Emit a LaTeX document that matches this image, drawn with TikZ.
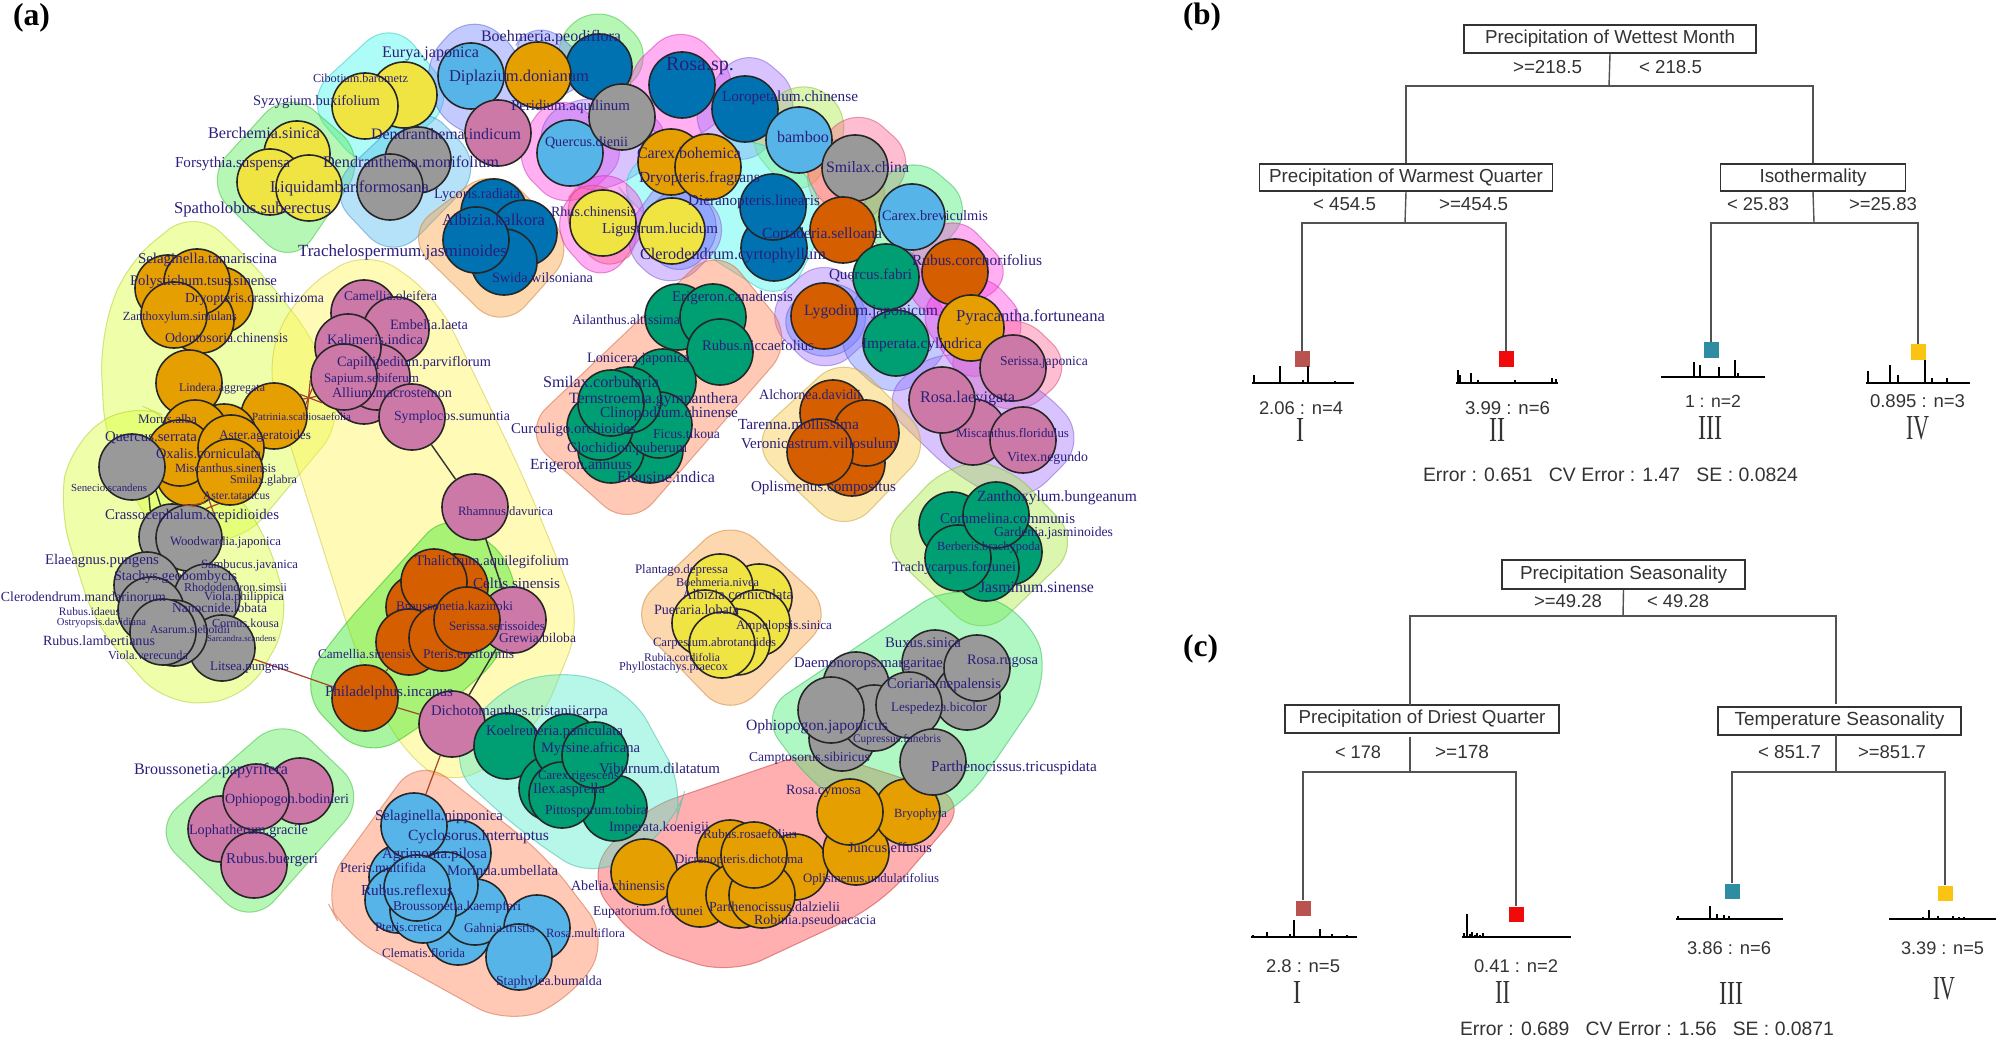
\documentclass[tikz,border=0pt]{standalone}
\usepackage{graphicx}
\usepackage{fontspec}
\setmainfont{Liberation Serif}
\newfontfamily\tsans{Liberation Sans}
\usetikzlibrary{calc}
\newlength\pxu \setlength\pxu{0.01cm}
\newcount\lc \lc=0
% Okabe-Ito node colours
\definecolor{cY}{HTML}{F0E442}\definecolor{cO}{HTML}{E69F00}\definecolor{cS}{HTML}{56B4E9}
\definecolor{cD}{HTML}{0072B2}\definecolor{cV}{HTML}{D55E00}\definecolor{cG}{HTML}{009E73}
\definecolor{cP}{HTML}{CC79A7}\definecolor{cK}{HTML}{999999}
% hull colours
\definecolor{hYa}{HTML}{D9FF33}\definecolor{hYb}{HTML}{FFF551}\definecolor{hG}{HTML}{51EB51}
\definecolor{hGb}{HTML}{30E820}\definecolor{hAq}{HTML}{51EBCB}\definecolor{hCy}{HTML}{3FF7EB}
\definecolor{hPeri}{HTML}{7181FF}\definecolor{hPur}{HTML}{A171FF}\definecolor{hMag}{HTML}{FF41E1}
\definecolor{hPink}{HTML}{FF6191}\definecolor{hSal}{HTML}{FF7F50}\definecolor{hRed}{HTML}{FF4141}
\definecolor{hPe}{HTML}{FBA141}\definecolor{hTan}{HTML}{F7C941}\definecolor{hMint}{HTML}{41EB71}
\definecolor{hLime}{HTML}{A9EB41}\definecolor{hBl}{HTML}{51B9F1}
\definecolor{labc}{HTML}{2A1F7A}\definecolor{txg}{HTML}{333333}
\definecolor{sqA}{HTML}{B9534F}\definecolor{sqB}{HTML}{F00A0A}\definecolor{sqC}{HTML}{2E8CA3}\definecolor{sqD}{HTML}{FBC312}
\definecolor{eR}{HTML}{A8452F}
\tikzset{
 hull/.style={draw=#1!80!black,fill=#1,fill opacity=.42,draw opacity=.5,rounded corners=10pt,line width=.3pt},
 spnode/.style={circle,draw=black!85,fill=#1,minimum size=.66cm,inner sep=0pt,line width=.45pt},
 lab/.style={inner sep=0pt,text=labc},
 txt/.style={inner sep=0pt,text=txg,font=\tsans},
 tbox/.style={draw=txg,fill=white,line width=.5pt,inner sep=0pt,text=txg,font=\tsans},
 leafsq/.style={minimum size=.15cm,inner sep=0pt,fill=#1},
 tline/.style={draw=txg!85,line width=.4pt},
 edgeR/.style={draw=eR,line width=.35pt},
 edgeK/.style={draw=black!80,line width=.4pt}
}
\newcommand\hu[2]{\draw[hull=#1] #2 -- cycle;}
\newcommand\ci[4]{\node[spnode=#4] (#1) at (#2,#3) {};}
\newcommand\lb[4]{\global\advance\lc by 1\node[lab] (l\the\lc) at ({(#1+#2)/2},#3) {\resizebox{\the\numexpr#2-#1\relax\pxu}{!}{#4}};}
\newcommand\tx[4]{\global\advance\lc by 1\node[txt] (l\the\lc) at ({(#1+#2)/2},#3) {\resizebox{\the\numexpr#2-#1\relax\pxu}{!}{#4}};}
\newcommand\ro[5]{\global\advance\lc by 1\node[inner sep=0pt,text=txg] (l\the\lc) at ({(#1+#2)/2},#3) {\resizebox{\the\numexpr#2-#1\relax\pxu}{#4\pxu}{#5}};}
\newcommand\pl[4]{\global\advance\lc by 1\node[inner sep=0pt,text=black] (l\the\lc) at ({(#1+#2)/2},#3) {\resizebox{\the\numexpr#2-#1\relax\pxu}{!}{\bfseries #4}};}
\newcommand\tb[7]{\node[tbox,minimum width=#4\pxu,minimum height=#5\pxu] (#1) at (#2,#3) {\resizebox{#6\pxu}{!}{#7}};}
\newcommand\spk[4]{\draw[black,line width=.45pt] (#1,#3) -- (#2,#3);\foreach \a/\b in {#4}{\draw[black,line width=.5pt] (\a,#3) -- ++(0,-\b);}}
\begin{document}
\begin{tikzpicture}[x=0.01cm,y=-0.01cm]
\useasboundingbox (0,0) rectangle (2000,1043);
% ---------- hulls ----------
\hu{hYa}{(195,208) -- (125,265) -- (100,340) -- (105,440) -- (155,535) -- (240,545) -- (345,420) -- (315,340) -- (255,265)}
\hu{hYb}{(367,248) -- (295,295) -- (265,365) -- (295,460) -- (355,650) -- (400,750) -- (455,790) -- (540,725) -- (582,620) -- (525,480) -- (465,355) -- (435,295)}
\hu{hYa}{(130,401) -- (70,445) -- (59,510) -- (95,625) -- (165,705) -- (245,700) -- (291,620) -- (265,530) -- (175,420)}
\hu{hGb}{(450,508) -- (335,635) -- (298,690) -- (365,760) -- (425,725) -- (509,650) -- (520,570)}
\hu{hCy}{(392,18) -- (303,100) -- (368,175) -- (458,100)}
\hu{hG}{(288,88) -- (203,182) -- (292,268) -- (368,157)}
\hu{hBl}{(421,100) -- (325,190) -- (393,262) -- (485,168)}
\hu{hPe}{(495,165) -- (403,235) -- (502,332) -- (578,247)}
\hu{hPeri}{(471,10) -- (417,70) -- (455,140) -- (520,130) -- (530,60)}
\hu{hG}{(598,0) -- (545,50) -- (600,115) -- (658,55)}
\hu{hPeri}{(533,15) -- (505,65) -- (545,110) -- (600,70)}
\hu{hMag}{(555,88) -- (508,157) -- (566,215) -- (635,150)}
\hu{hPur}{(600,90) -- (530,120) -- (560,190) -- (625,190) -- (680,130)}
\hu{hMag}{(682,20) -- (618,80) -- (650,140) -- (700,145) -- (745,85)}
\hu{hPur}{(745,43) -- (683,120) -- (745,174) -- (807,97)}
\hu{hLime}{(801,73) -- (740,135) -- (800,205) -- (857,120)}
\hu{hPe}{(830,125) -- (795,175) -- (860,260) -- (895,180)}
\hu{hPink}{(856,103) -- (794,170) -- (856,237) -- (920,160)}
\hu{hMint}{(912,151) -- (848,215) -- (912,280) -- (977,207)}
\hu{hCy}{(612,178) -- (690,130) -- (790,150) -- (830,215) -- (785,305) -- (715,260) -- (640,215)}
\hu{hMag}{(602,161) -- (546,225) -- (603,289) -- (658,213)}
\hu{hPink}{(590,170) -- (555,215) -- (610,280) -- (650,230)}
\hu{hPur}{(672,165) -- (615,243) -- (672,295) -- (736,230)}
\hu{hPeri}{(680,175) -- (630,230) -- (680,285) -- (730,225)}
\hu{hPur}{(825,253) -- (760,315) -- (824,380) -- (890,320)}
\hu{hPeri}{(835,270) -- (770,320) -- (825,370) -- (880,320)}
\hu{hPeri}{(896,225) -- (830,345) -- (896,405) -- (960,340)}
\hu{hMag}{(952,208) -- (895,270) -- (932,329) -- (1019,277)}
\hu{hMag}{(979,265) -- (911,307) -- (971,392) -- (1035,327)}
\hu{hPink}{(1015,308) -- (936,363) -- (1015,422) -- (1077,367)}
\hu{hPur}{(877,400) -- (942,345) -- (1040,385) -- (1088,440) -- (1021,507) -- (960,480)}
\hu{hSal}{(718,245) -- (521,432) -- (630,529) -- (795,340)}
\hu{hTan}{(845,353) -- (747,443) -- (845,536) -- (935,443)}
\hu{hPe}{(730,516) -- (627,613) -- (730,720) -- (836,613)}
\hu{hLime}{(950,461) -- (876,540) -- (982,640) -- (1082,543) -- (1005,462)}
\hu{hRed}{(640,810) -- (815,750) -- (970,800) -- (880,905) -- (730,975) -- (640,945) -- (585,875)}
\hu{hMint}{(952,583) -- (758,713) -- (817,790) -- (900,835) -- (965,805) -- (1050,680) -- (1030,615)}
\hu{hAq}{(556,668) -- (630,690) -- (685,790) -- (675,825) -- (593,880) -- (525,835) -- (447,765) -- (490,695)}
\hu{hSal}{(419,756) -- (321,890) -- (345,935) -- (508,1025) -- (570,1000) -- (610,940) -- (545,855)}
\hu{hG}{(284,715) -- (151,830) -- (251,927) -- (368,795)}
% ---------- species circles ----------
\ci{a1}{404}{95}{cY}\ci{a2}{365}{106}{cY}
\ci{b1}{599}{67}{cD}\ci{b2}{471}{76}{cS}\ci{b3}{538}{75}{cO}
\ci{b4}{498}{133}{cP}\ci{b5}{570}{153}{cS}\ci{b6}{622}{117}{cK}
\ci{c1}{297}{154}{cY}\ci{c2}{270}{182}{cY}\ci{c3}{309}{188}{cY}
\ci{d1}{418}{160}{cK}\ci{d2}{390}{187}{cK}
\ci{e1}{494}{212}{cD}\ci{e2}{524}{233}{cD}\ci{e4}{504}{262}{cD}\ci{e3}{476}{240}{cD}
\ci{f1}{168}{288}{cO}\ci{f3}{220}{300}{cO}\ci{f4}{201}{320}{cO}\ci{f2}{197}{282}{cO}\ci{f5}{174}{315}{cO}
\ci{g1}{364}{313}{cP}\ci{g2}{396}{330}{cP}\ci{g5}{364}{391}{cP}\ci{g6}{377}{377}{cP}\ci{g3}{348}{347}{cP}\ci{g4}{344}{377}{cP}
\ci{sym}{412}{417}{cP}\ci{rha}{475}{507}{cP}
\ci{lin}{189}{383}{cO}\ci{pat}{274}{416}{cO}
\ci{h2}{224}{437}{cO}\ci{h1}{195}{433}{cO}\ci{h4}{189}{473}{cO}\ci{h3}{180}{453}{cO}\ci{h5}{231}{448}{cO}\ci{h6}{230}{472}{cO}
\ci{qse}{132}{467}{cK}
\ci{i1}{172}{537}{cK}\ci{i2}{189}{538}{cK}
\ci{j1}{147}{585}{cK}\ci{j2}{207}{597}{cK}\ci{j5}{151}{610}{cK}\ci{j4}{222}{648}{cK}\ci{j6}{174}{633}{cK}\ci{j3}{163}{632}{cK}
\ci{k2}{419}{607}{cV}\ci{k6}{455}{587}{cV}\ci{k1}{434}{582}{cV}\ci{k3}{409}{642}{cV}\ci{k4}{442}{638}{cV}\ci{cel}{513}{620}{cP}\ci{k5}{467}{620}{cV}
\ci{phi}{365}{698}{cV}\ci{dic}{452}{724}{cP}
\ci{m1}{507}{746}{cG}\ci{m5}{552}{788}{cG}\ci{m2}{567}{747}{cG}\ci{m6}{614}{808}{cG}\ci{m4}{562}{795}{cG}\ci{m3}{595}{755}{cG}
\ci{n1}{300}{791}{cP}\ci{n3}{221}{829}{cP}\ci{n2}{256}{797}{cP}\ci{n4}{254}{865}{cP}
\ci{o10}{458}{932}{cS}\ci{o8}{475}{912}{cS}\ci{o2}{458}{853}{cS}\ci{o3}{402}{877}{cS}\ci{o1}{414}{826}{cS}\ci{o4}{445}{885}{cS}\ci{o6}{398}{900}{cS}\ci{o7}{423}{910}{cS}\ci{o5}{417}{888}{cS}\ci{o11}{537}{928}{cS}\ci{o12}{519}{957}{cS}
\ci{p1}{644}{872}{cO}\ci{p6}{795}{867}{cO}\ci{p3}{730}{853}{cO}\ci{p2}{700}{894}{cO}\ci{p5}{739}{895}{cO}\ci{p7}{762}{895}{cO}\ci{p4}{754}{855}{cO}
\ci{p8}{856}{852}{cO}\ci{p10}{907}{812}{cO}\ci{p9}{850}{812}{cO}
\ci{q3}{842}{738}{cK}\ci{q1}{856}{685}{cK}\ci{q4}{874}{718}{cK}\ci{q2}{831}{710}{cK}\ci{q6}{935}{663}{cK}\ci{q8}{967}{697}{cK}\ci{q7}{977}{668}{cK}\ci{q5}{909}{705}{cK}\ci{q9}{933}{762}{cK}
\ci{r1}{952}{525}{cG}\ci{r3}{1009}{552}{cG}\ci{r5}{986}{568}{cG}\ci{r4}{958}{558}{cG}\ci{r2}{996}{515}{cG}
\ci{s2}{759}{597}{cY}\ci{s1}{720}{587}{cY}\ci{s3}{757}{623}{cY}\ci{s6}{737}{642}{cY}\ci{s4}{705}{623}{cY}\ci{s7}{722}{645}{cY}
\ci{t1}{833}{413}{cV}\ci{t4}{852}{463}{cV}\ci{t2}{866}{433}{cV}\ci{t3}{820}{452}{cV}
\ci{u1}{678}{317}{cG}\ci{u2}{713}{317}{cG}\ci{u3}{720}{352}{cG}
\ci{u4}{663}{382}{cG}\ci{u8}{650}{450}{cG}\ci{u9}{611}{450}{cG}\ci{u7}{659}{425}{cG}\ci{u6}{600}{427}{cG}\ci{u5}{628}{400}{cG}\ci{u10}{611}{403}{cG}
\ci{v1}{682}{85}{cD}\ci{v2}{745}{109}{cD}\ci{v3}{799}{140}{cS}\ci{v4}{855}{168}{cK}
\ci{v5}{671}{162}{cO}\ci{v6}{708}{167}{cO}
\ci{v8}{774}{248}{cD}\ci{v7}{773}{207}{cD}
\ci{v9}{603}{223}{cY}\ci{v10}{672}{231}{cY}
\ci{v11}{843}{230}{cV}\ci{v12}{912}{217}{cS}\ci{v13}{886}{277}{cG}\ci{v14}{955}{272}{cV}
\ci{v15}{824}{316}{cV}\ci{v16}{896}{343}{cG}\ci{v17}{971}{328}{cO}
\ci{w4}{973}{432}{cP}\ci{w1}{1013}{368}{cP}\ci{w2}{942}{400}{cP}\ci{w3}{1023}{440}{cP}
% ---------- connectors ----------
\draw[edgeK] (sym) -- (rha);
\draw[edgeK] (rha) -- (cel);
\draw[edgeK] (cel) -- (dic);
\draw[edgeK] (qse.-60) -- (i1.130);
\draw[edgeK] (qse.-45) -- (i1.110);
\draw[edgeR] (pat.20) -- (g4.200);
\draw[edgeR] (pat.30) -- (g4.215);
\draw[edgeR] (pat.40) -- (g4.230);
\draw[edgeR] (pat.10) -- (g4.185);
\draw[edgeR] (h4.-80) -- (i2.100);
\draw[edgeR] (h4.-60) -- (i2.80);
\draw[edgeR] (h6.-110) -- (i2.60);
\draw[edgeR] (h6.-130) -- (i2.40);
\draw[edgeR] (j4) -- (phi);
\draw[edgeR] (phi) -- (dic);
\draw[edgeR] (k3) -- (phi);
\draw[edgeR] (dic) -- (o1);
% ---------- species labels ----------
\lb{382}{479}{54}{Eurya.japonica}\lb{481}{621}{38}{Boehmeria.peodiflora}
\lb{313}{408}{78}{Cibotium.barometz}\lb{449}{589}{78}{Diplazium.donianum}
\lb{253}{380}{102}{Syzygium.buxifolium}\lb{511}{630}{107}{Peridium.aquilinum}
\lb{208}{320}{133}{Berchemia.sinica}\lb{371}{521}{134}{Dendranthema.indicum}
\lb{545}{628}{143}{Quercus.dienii}\lb{175}{290}{164}{Forsythia.suspensa}
\lb{323}{499}{162}{Dendranthema.monifolium}\lb{270}{429}{188}{Liquidambar.formosana}
\lb{434}{520}{195}{Lycoris.radiata}\lb{442}{545}{220}{Albizia.kalkora}
\lb{174}{331}{209}{Spatholobus.suberectus}\lb{551}{636}{212}{Rhus.chinensis}
\lb{602}{718}{230}{Ligustrum.lucidum}\lb{298}{507}{252}{Trachelospermum.jasminoides}
\lb{492}{593}{278}{Swida.wilsoniana}\lb{138}{277}{260}{Selaginella.tamariscina}
\lb{130}{277}{282}{Polystichum.tsus.sinense}\lb{185}{324}{299}{Dryopteris.crassirhizoma}
\lb{123}{237}{318}{Zanthoxylum.simulans}\lb{165}{288}{338}{Odontosoria.chinensis}
\lb{344}{437}{296}{Camellia.oleifera}\lb{390}{468}{325}{Embelia.laeta}
\lb{327}{423}{340}{Kalimeris.indica}\lb{337}{491}{363}{Capillipedium.parviflorum}
\lb{324}{419}{379}{Sapium.sebiferum}\lb{332}{452}{393}{Allium.macrostemon}
\lb{394}{510}{417}{Symplocos.sumuntia}\lb{179}{265}{389}{Lindera.aggregata}
\lb{252}{351}{417}{Patrinia.scabiosaefolia}\lb{138}{197}{419}{Morus.alba}
\lb{105}{197}{438}{Quercus.serrata}\lb{219}{311}{436}{Aster.ageratoides}
\lb{156}{261}{454}{Oxalis.corniculata}\lb{175}{276}{468}{Miscanthus.sinensis}
\lb{230}{297}{481}{Smilax.glabra}\lb{71}{147}{488}{Senecio.scandens}
\lb{203}{270}{496}{Aster.tataricus}\lb{105}{279}{516}{Crassocephalum.crepidioides}
\lb{170}{281}{542}{Woodwardia.japonica}\lb{45}{159}{561}{Elaeagnus.pungens}
\lb{201}{298}{565}{Sambucus.javanica}\lb{114}{237}{577}{Stachys.geobombycis}
\lb{184}{287}{587}{Rhododendron.simsii}\lb{1}{166}{597}{Clerodendrum.mandarinorum}
\lb{204}{284}{597}{Viola.philippica}\lb{172}{267}{608}{Nanocnide.lobata}
\lb{59}{120}{612}{Rubus.idaeus}\lb{57}{146}{623}{Ostryopsis.davidiana}
\lb{212}{279}{623}{Cornus.kousa}\lb{150}{230}{630}{Asarum.sieboldii}
\lb{43}{155}{641}{Rubus.lambertianus}\lb{207}{276}{639}{Sarcandra.scandens}
\lb{108}{188}{655}{Viola.verecunda}\lb{210}{289}{668}{Litsea.pungens}
\lb{458}{553}{511}{Rhamnus.davurica}\lb{415}{569}{562}{Thalictrum.aquilegifolium}
\lb{473}{560}{583}{Celtis.sinensis}\lb{396}{513}{606}{Broussonetia.kazinoki}
\lb{449}{545}{626}{Serissa.serissoides}\lb{499}{576}{638}{Grewia.biloba}
\lb{318}{411}{654}{Camellia.sinensis}\lb{423}{514}{654}{Pteris.ensiformis}
\lb{325}{453}{693}{Philadelphus.incanus}
\lb{431}{608}{712}{Dichotomanthes.tristaniicarpa}\lb{486}{623}{732}{Koelreuteria.paniculata}
\lb{541}{640}{749}{Myrsine.africana}\lb{134}{288}{771}{Broussonetia.papyrifera}
\lb{538}{619}{777}{Carex.rigescens}\lb{599}{720}{768}{Viburnum.dilatatum}
\lb{533}{605}{790}{Ilex.asprella}\lb{545}{647}{811}{Pittosporum.tobira}
\lb{225}{349}{800}{Ophiopogon.bodinieri}\lb{375}{503}{817}{Selaginella.nipponica}
\lb{609}{709}{828}{Imperata.koenigii}\lb{408}{549}{837}{Cyclosorus.interruptus}
\lb{189}{308}{831}{Lophatherum.gracile}\lb{382}{487}{855}{Agrimonia.pilosa}
\lb{226}{318}{860}{Rubus.buergeri}\lb{340}{426}{868}{Pteris.multifida}
\lb{447}{558}{871}{Morinda.umbellata}\lb{361}{453}{890}{Rubus.reflexus}
\lb{571}{665}{886}{Abelia.chinensis}\lb{393}{521}{907}{Broussonetia.kaempferi}
\lb{593}{703}{912}{Eupatorium.fortunei}\lb{375}{442}{927}{Pteris.cretica}
\lb{464}{535}{928}{Gahnia.tristis}\lb{546}{625}{933}{Rosa.multiflora}
\lb{382}{465}{953}{Clematis.florida}\lb{496}{602}{982}{Staphylea.bumalda}
\lb{703}{797}{834}{Rubus.rosaefolius}\lb{675}{803}{860}{Dicranopteris.dichotoma}
\lb{803}{939}{879}{Oplismenus.undulatifolius}\lb{709}{840}{907}{Parthenocissus.dalzielii}
\lb{754}{876}{921}{Robinia.pseudoacacia}\lb{786}{861}{791}{Rosa.cymosa}
\lb{894}{947}{814}{Bryophyta}\lb{848}{932}{848}{Juncus.effusus}
\lb{749}{870}{758}{Camptosorus.sibiricus}\lb{931}{1097}{768}{Parthenocissus.tricuspidata}
\lb{746}{888}{727}{Ophiopogon.japonicus}\lb{853}{941}{740}{Cupressus.funebris}
\lb{891}{987}{708}{Lespedeza.bicolor}\lb{887}{1001}{685}{Coriaria.nepalensis}
\lb{794}{943}{664}{Daemonorops.margaritae}\lb{967}{1038}{661}{Rosa.rugosa}
\lb{885}{961}{643}{Buxus.sinica}
\lb{635}{728}{570}{Plantago.depressa}\lb{676}{759}{582}{Boehmeria.nivea}
\lb{682}{793}{595}{Albizia.corniculata}\lb{654}{739}{610}{Pueraria.lobata}
\lb{736}{832}{626}{Ampelopsis.sinica}\lb{653}{776}{643}{Carpesium.abrotanoides}
\lb{644}{720}{657}{Rubia.cordifolia}\lb{619}{728}{668}{Phyllostachys.praecox}
\lb{977}{1137}{498}{Zanthoxylum.bungeanum}\lb{940}{1075}{518}{Commelina.communis}
\lb{994}{1113}{533}{Gardenia.jasminoides}\lb{937}{1040}{548}{Berberis.brachypoda}
\lb{892}{1016}{568}{Trachycarpus.fortunei}\lb{979}{1094}{587}{Jasminum.sinense}
\lb{751}{896}{488}{Oplismenus.compositus}\lb{759}{861}{395}{Alchornea.davidii}
\lb{738}{859}{424}{Tarenna.mollissima}\lb{741}{897}{443}{Veronicastrum.villosulum}
\lb{920}{1015}{399}{Rosa.laevigata}\lb{956}{1069}{433}{Miscanthus.floridulus}
\lb{1007}{1088}{458}{Vitex.negundo}\lb{1000}{1088}{362}{Serissa.japonica}
\lb{587}{690}{359}{Lonicera.japonica}\lb{543}{659}{382}{Smilax.corbularia}
\lb{569}{738}{400}{Ternstroemia.gymnanthera}\lb{600}{738}{414}{Clinopodium.chinense}
\lb{511}{636}{430}{Curculigo.orchioides}\lb{653}{720}{434}{Ficus.tikoua}
\lb{567}{687}{449}{Glochidion.puberum}\lb{530}{632}{466}{Erigeron.annuus}
\lb{617}{715}{477}{Eleusine.indica}\lb{862}{982}{345}{Imperata.cylindrica}
\lb{702}{814}{345}{Rubus.niccaefolius}\lb{572}{680}{320}{Ailanthus.altissima}
\lb{672}{793}{298}{Erigeron.canadensis}\lb{804}{938}{312}{Lygodium.japonicum}
\lb{956}{1105}{317}{Pyracantha.fortuneana}\lb{829}{912}{275}{Quercus.fabri}
\lb{912}{1042}{260}{Rubus.corchorifolius}\lb{640}{826}{256}{Clerodendrum.cyrtophyllum}
\lb{762}{882}{233}{Cortaderia.selloana}\lb{882}{988}{216}{Carex.breviculmis}
\lb{688}{820}{202}{Dicranopteris.linearis}\lb{639}{760}{179}{Dryopteris.fragrans}
\lb{637}{741}{153}{Carex.bohemica}\lb{826}{909}{167}{Smilax.china}
\lb{777}{829}{137}{bamboo}\lb{722}{858}{98}{Loropetalum.chinense}
\lb{666}{734}{66}{Rosa.sp.}
% ---------- panel letters ----------
\pl{13}{50}{18}{(a)}\pl{1183}{1221}{17}{(b)}\pl{1183}{1218}{649}{(c)}
% ---------- tree b ----------
\tb{broot}{1610}{39}{292}{28}{250}{Precipitation of Wettest Month}
\tb{bL}{1406}{177.5}{293}{27}{274}{Precipitation of Warmest Quarter}
\tb{bR}{1813}{177.5}{185}{27}{107}{Isothermality}
\coordinate (bj0) at (1609,86);\coordinate (bjL) at (1405,223);\coordinate (bjR) at (1814,223);
\node[leafsq=sqA] (bI) at (1302,359) {};\node[leafsq=sqB] (bII) at (1506,359) {};
\node[leafsq=sqC] (bIII) at (1711,350) {};\node[leafsq=sqD] (bIV) at (1918,352) {};
\draw[tline] (broot.south) -- (bj0);
\draw[tline] (bL.north) |- (bj0) -| (bR.north);
\draw[tline] (bL.south) -- (bjL);\draw[tline] (bR.south) -- (bjR);
\draw[tline] (bI.north) |- (bjL) -| (bII.north);
\draw[tline] (bIII.north) |- (bjR) -| (bIV.north);
\tx{1513}{1582}{67}{>=218.5}\tx{1639}{1702}{67}{< 218.5}
\tx{1313}{1376}{204}{< 454.5}\tx{1439}{1508}{204}{>=454.5}
\tx{1727}{1789}{204}{< 25.83}\tx{1849}{1917}{204}{>=25.83}
\spk{1252}{1354}{383}{1254/8,1280/17,1308/17,1303/3,1262/1,1335/2}
\spk{1456}{1558}{383}{1458/13,1460/8,1471/10,1478/3,1515/3,1552/5,1556/4}
\spk{1661}{1765}{377}{1694/15,1700/12,1719/10,1735/17,1738/4}
\spk{1866}{1970}{383}{1868/12,1890/18,1898/8,1925/23,1932/5,1947/5}
\tx{1259}{1343}{408}{2.06 : n=4}\tx{1465}{1550}{408}{3.99 : n=6}
\tx{1685}{1741}{401}{1 : n=2}\tx{1870}{1965}{401}{0.895 : n=3}
\ro{1296}{1304}{430}{23}{I}\ro{1489}{1505}{430}{23}{II}\ro{1698}{1722}{428}{23}{III}\ro{1906}{1929}{428}{23}{IV}
\tx{1423}{1798}{475}{Error :  0.651\ \ \ CV Error :  1.47\ \ \ SE :  0.0824}
% ---------- tree c ----------
\tb{croot}{1623.5}{574.5}{243}{29}{207}{Precipitation Seasonality}
\tb{cL}{1422}{719}{274}{28}{247}{Precipitation of Driest Quarter}
\tb{cR}{1839.5}{721}{243}{28}{210}{Temperature Seasonality}
\coordinate (cj0) at (1623,616);\coordinate (cjL) at (1410,772);\coordinate (cjR) at (1836,772);
\coordinate (cuL) at (1410,705);\coordinate (cuR) at (1836,704);\coordinate (cdL) at (1410,737);\coordinate (cdR) at (1836,735);
\node[leafsq=sqA] (cI) at (1303,908) {};\node[leafsq=sqB] (cII) at (1516,914) {};
\node[leafsq=sqC] (cIII) at (1732,891) {};\node[leafsq=sqD] (cIV) at (1945,893) {};
\draw[tline] (croot.south) -- (cj0);
\draw[tline] (cuL) |- (cj0) -| (cuR);
\draw[tline] (cdL) -- (cjL);\draw[tline] (cdR) -- (cjR);
\draw[tline] (cI.north) |- (cjL) -| (cII.north);
\draw[tline] (cIII.north) |- (cjR) -| (cIV.north);
\tx{1534}{1602}{601}{>=49.28}\tx{1647}{1709}{601}{< 49.28}
\tx{1335}{1381}{752}{< 178}\tx{1435}{1489}{752}{>=178}
\tx{1758}{1821}{752}{< 851.7}\tx{1858}{1926}{752}{>=851.7}
\spk{1251}{1357}{937}{1253/2,1267/5,1294/17,1290/3,1320/8,1332/3,1347/2}
\spk{1462}{1571}{937}{1467/23,1464/4,1472/5,1477/4,1483/4,1470/3,1475/2,1480/2,1486/1.5,1490/1}
\spk{1676}{1783}{919}{1678/3,1710/13,1717/5,1724/4,1729/3}
\spk{1889}{1996}{919}{1910/1.5,1916/1.5,1923/2,1929/9,1938/3,1953/3,1959/2.5,1964/2,1978/1.5}
\tx{1266}{1340}{966}{2.8 : n=5}\tx{1474}{1558}{966}{0.41 : n=2}
\tx{1687}{1771}{948}{3.86 : n=6}\tx{1901}{1984}{948}{3.39 : n=5}
\ro{1293}{1301}{992}{22}{I}\ro{1495}{1510}{992}{22}{II}\ro{1719}{1743}{993}{22}{III}\ro{1933}{1955}{989}{22}{IV}
\tx{1460}{1834}{1029}{Error :  0.689\ \ \ CV Error :  1.56\ \ \ SE :  0.0871}
\end{tikzpicture}
\end{document}
